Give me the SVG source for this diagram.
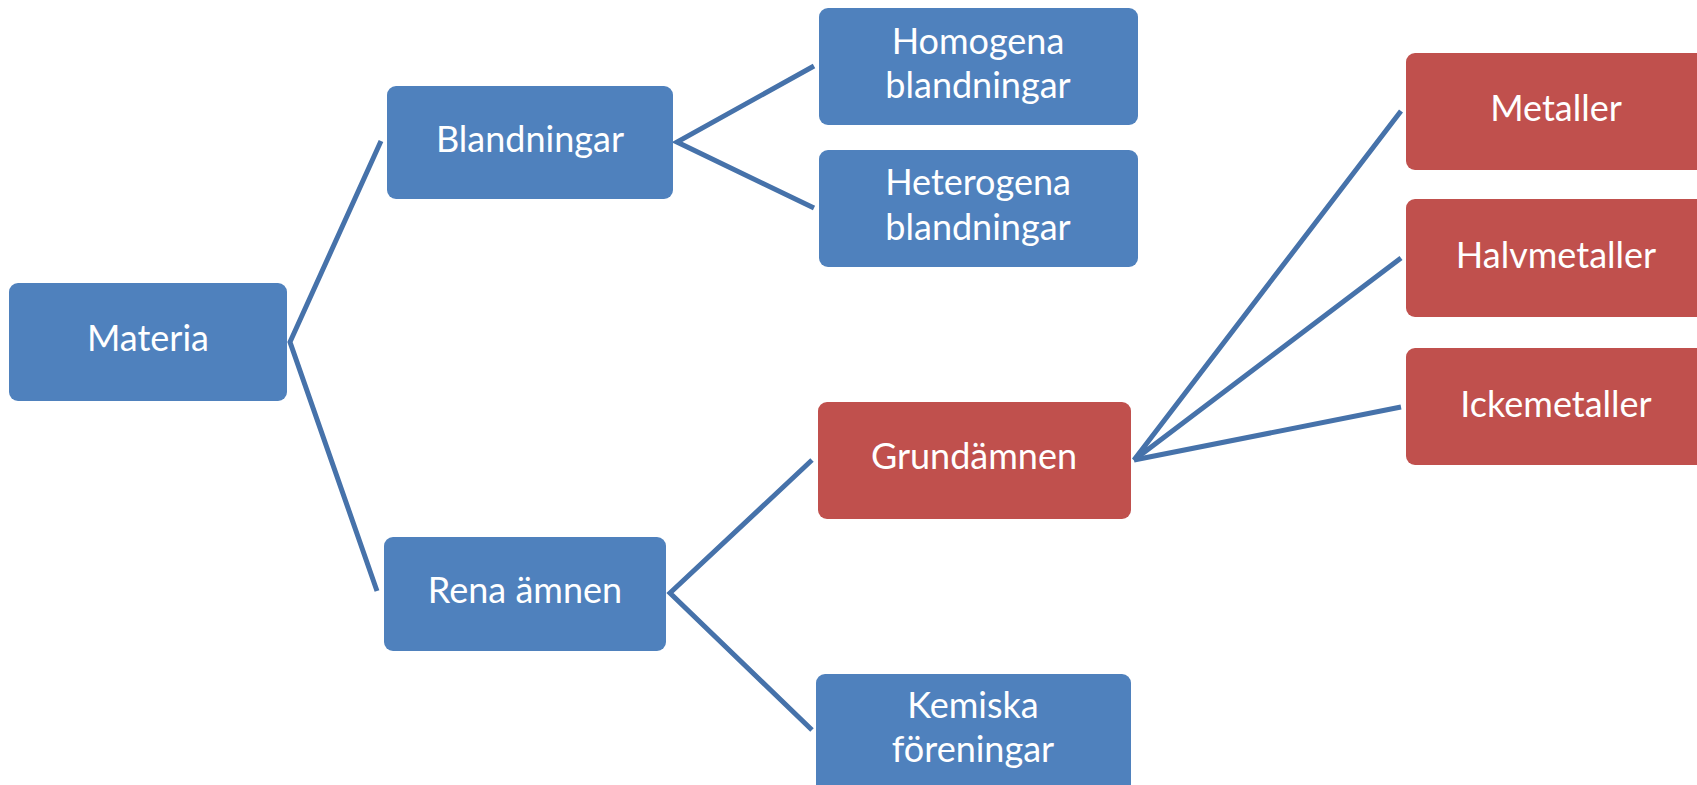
<svg xmlns="http://www.w3.org/2000/svg" width="1697" height="785" viewBox="0 0 1697 785">
<style>
.blue{fill:#4F81BD}
.red{fill:#C0504D}
text{font-family:Lato,"Open Sans","Liberation Sans",sans-serif;font-size:36px;fill:#FFFFFF;text-anchor:middle}
.conn{stroke:#4672AA;stroke-width:5;fill:none;stroke-linejoin:miter}
</style>
<rect width="1697" height="785" fill="#FFFFFF"/>
<g id="connectors">
<polyline class="conn" points="381,141 290,342 377,591"/>
<polyline class="conn" points="814,66 677,142 814,208"/>
<polyline class="conn" points="812,460 670,593 812,730"/>
<polyline class="conn" points="1401,111 1134,460 1401,258"/>
<polyline class="conn" points="1134,460 1401,407"/>
</g>
<g id="materia"><rect class="blue" x="9" y="283" width="278" height="118" rx="9"/><text x="148" y="351">Materia</text></g>
<g id="blandningar"><rect class="blue" x="387" y="86" width="286" height="113" rx="9"/><text x="530" y="152">Blandningar</text></g>
<g id="homogena"><rect class="blue" x="819" y="8" width="319" height="117" rx="9"/><text x="978" y="54">Homogena</text><text x="978" y="98">blandningar</text></g>
<g id="heterogena"><rect class="blue" x="819" y="150" width="319" height="117" rx="9"/><text x="978" y="195">Heterogena</text><text x="978" y="240">blandningar</text></g>
<g id="rena"><rect class="blue" x="384" y="537" width="282" height="114" rx="9"/><text x="525" y="603">Rena ämnen</text></g>
<g id="grundamnen"><rect class="red" x="818" y="402" width="313" height="117" rx="9"/><text x="974" y="469">Grundämnen</text></g>
<g id="kemiska"><rect class="blue" x="816" y="674" width="315" height="120" rx="9"/><text x="973" y="718">Kemiska</text><text x="973" y="762">föreningar</text></g>
<g id="metaller"><rect class="red" x="1406" y="53" width="310" height="117" rx="9"/><text x="1556" y="121">Metaller</text></g>
<g id="halvmetaller"><rect class="red" x="1406" y="199" width="310" height="118" rx="9"/><text x="1556" y="268">Halvmetaller</text></g>
<g id="ickemetaller"><rect class="red" x="1406" y="348" width="310" height="117" rx="9"/><text x="1556" y="417">Ickemetaller</text></g>
</svg>
